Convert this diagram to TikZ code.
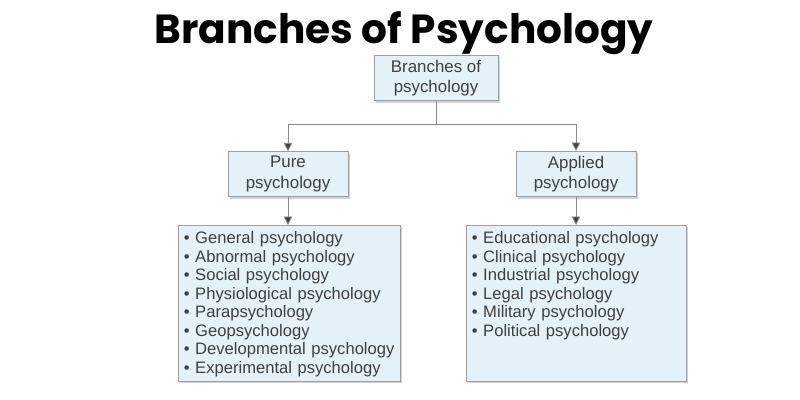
\documentclass[tikz,border=0pt]{standalone}
\usepackage{fontspec}
\setmainfont{Liberation Sans}
\newfontfamily\titlefont{Poppins}
\usetikzlibrary{positioning}
\usetikzlibrary{arrows.meta}
\usetikzlibrary{shadows}
\definecolor{boxfill}{HTML}{E4F1F9}
\definecolor{boxline}{HTML}{9A9FA3}
\definecolor{txtgray}{HTML}{3F3F3F}
\definecolor{linegray}{HTML}{8A8A8A}

\tikzset{
  headbox/.style={draw=boxline, fill=boxfill, rectangle, align=center, text=txtgray,
    font=\fontsize{12}{14.5}\selectfont, minimum width=3cm, minimum height=1.1cm,
    drop shadow={shadow xshift=1.5pt, shadow yshift=-1.5pt, opacity=0.35}},
  listbox/.style={draw=boxline, fill=boxfill, rectangle, align=left, text=txtgray,
    font=\fontsize{11.8}{13.2}\selectfont, anchor=north west, inner sep=4pt,
    text height=9pt, text depth=94pt,
    drop shadow={shadow xshift=1.5pt, shadow yshift=-1.5pt, opacity=0.35}},
  link/.style={draw=linegray, line width=0.6pt},
  linkarrow/.style={link, -{Triangle[length=6pt,width=6pt,fill=txtgray]}}
}

\begin{document}
\begin{tikzpicture}[x=0.025cm, y=-0.025cm]
            \useasboundingbox (0,0) rectangle (800,400);
            \node[font=\titlefont\bfseries\fontsize{28.9}{32}\selectfont] (title) at (404,33) {Branches of Psychology};

            \node[headbox, minimum width=3.1cm] (root) at (436,78) {Branches of\\psychology};
            \node[headbox] (pure) at (288,174) {Pure\\psychology};
            \node[headbox] (applied) at (576,174) {Applied\\psychology};

            \node[listbox, text width=5.55cm-8pt] (purelist) at (178,225)
              {• General psychology\\• Abnormal psychology\\• Social psychology\\• Physiological psychology\\• Parapsychology\\• Geopsychology\\• Developmental psychology\\• Experimental psychology};
            \node[listbox, text width=5.5cm-8pt] (appliedlist) at (466,225)
              {• Educational psychology\\• Clinical psychology\\• Industrial psychology\\• Legal psychology\\• Military psychology\\• Political psychology};

            \coordinate (split) at (436,124);
            \draw[link] (root) -- (split);
            \draw[linkarrow] (split) -| (pure);
            \draw[linkarrow] (split) -| (applied);
            \draw[linkarrow] (pure) -- (pure |- purelist.north);
            \draw[linkarrow] (applied) -- (applied |- appliedlist.north);
        \end{tikzpicture}
\end{document}
